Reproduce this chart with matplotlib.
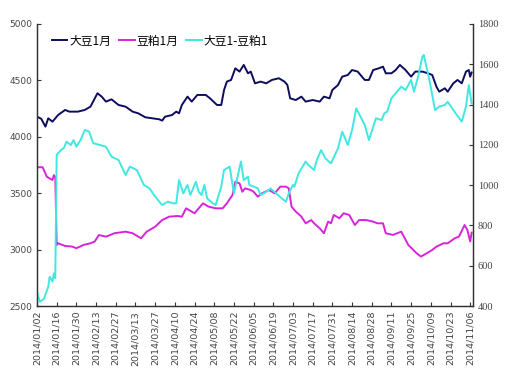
import pandas as pd
import matplotlib
matplotlib.use("Agg")
import matplotlib.pyplot as plt
import matplotlib.dates as mdates

plt.rcParams['font.family'] = ['Noto Sans CJK SC', 'DejaVu Sans']

# 大豆1月 (left axis)
soy_dates = ["01-02", "01-05", "01-08", "01-10", "01-13", "01-17", "01-22", "01-25", "01-31", "02-05",
             "02-09", "02-14", "02-17", "02-20", "02-24", "03-01", "03-06", "03-11", "03-15", "03-20",
             "03-25", "03-30", "04-01", "04-03", "04-08", "04-11", "04-13", "04-15", "04-19", "04-22",
             "04-26", "05-02", "05-05", "05-10", "05-13", "05-15", "05-17", "05-20", "05-23", "05-26",
             "05-29", "06-01", "06-03", "06-06", "06-10", "06-14", "06-18", "06-23", "06-27", "06-29",
             "07-01", "07-05", "07-09", "07-12", "07-17", "07-22", "07-25", "07-29", "07-31", "08-04",
             "08-07", "08-11", "08-14", "08-18", "08-23", "08-26", "08-29", "09-02", "09-05", "09-07",
             "09-11", "09-14", "09-17", "09-21", "09-25", "09-28", "10-03", "10-07", "10-10", "10-13",
             "10-15", "10-19", "10-21", "10-25", "10-28", "10-31", "11-03", "11-05", "11-06", "11-07"]
soy_vals = [4178, 4160, 4090, 4164, 4134, 4193, 4238, 4223, 4223, 4238,
            4267, 4386, 4356, 4312, 4332, 4282, 4267, 4223, 4208, 4173,
            4164, 4155, 4143, 4178, 4193, 4223, 4208, 4282, 4356, 4312,
            4371, 4371, 4341, 4282, 4282, 4415, 4489, 4504, 4607, 4578,
            4637, 4563, 4578, 4474, 4489, 4474, 4504, 4519, 4489, 4460,
            4341, 4326, 4356, 4312, 4326, 4312, 4356, 4341, 4415, 4459,
            4533, 4548, 4592, 4578, 4504, 4504, 4592, 4607, 4622, 4563,
            4563, 4592, 4637, 4592, 4533, 4578, 4578, 4563, 4548, 4444,
            4400, 4430, 4400, 4474, 4504, 4474, 4578, 4592, 4533, 4570]

# 豆粕1月 (left axis)
meal_dates = ["01-02", "01-06", "01-09", "01-13", "01-14", "01-15", "01-16", "01-17", "01-22", "01-27",
              "01-30", "02-04", "02-09", "02-12", "02-15", "02-20", "02-23", "02-26", "03-06", "03-11",
              "03-17", "03-21", "03-27", "04-01", "04-06", "04-12", "04-15", "04-18", "04-24", "04-30",
              "05-04", "05-09", "05-14", "05-17", "05-21", "05-23", "05-26", "05-28", "05-30", "06-03",
              "06-05", "06-08", "06-11", "06-16", "06-20", "06-24", "06-28", "06-30", "07-02", "07-05",
              "07-09", "07-12", "07-16", "07-18", "07-22", "07-25", "07-28", "07-30", "08-01", "08-05",
              "08-08", "08-12", "08-16", "08-19", "08-24", "08-29", "09-01", "09-05", "09-07", "09-12",
              "09-18", "09-23", "09-29", "10-02", "10-06", "10-10", "10-13", "10-18", "10-21", "10-26",
              "10-29", "11-02", "11-04", "11-06", "11-07"]
meal_vals = [3730, 3730, 3646, 3617, 3660, 3640, 3041, 3056, 3032, 3027,
             3012, 3041, 3056, 3071, 3129, 3115, 3129, 3145, 3159, 3145,
             3100, 3159, 3203, 3262, 3292, 3298, 3292, 3366, 3322, 3410,
             3381, 3366, 3366, 3410, 3484, 3602, 3587, 3513, 3543, 3528,
             3513, 3469, 3499, 3528, 3499, 3558, 3558, 3543, 3381, 3337,
             3292, 3233, 3262, 3233, 3189, 3145, 3248, 3233, 3307, 3278,
             3322, 3307, 3218, 3262, 3262, 3248, 3233, 3233, 3145, 3130,
             3159, 3041, 2967, 2938, 2967, 2997, 3026, 3056, 3056, 3100,
             3115, 3218, 3174, 3071, 3150]

# 大豆1-豆粕1 (right axis)
spread_dates = ["01-02", "01-04", "01-07", "01-10", "01-11", "01-13", "01-14", "01-15", "01-16", "01-19",
                "01-21", "01-23", "01-26", "01-28", "01-30", "02-02", "02-05", "02-08", "02-11", "02-16",
                "02-20", "02-24", "03-01", "03-06", "03-09", "03-14", "03-19", "03-23", "03-27", "04-01",
                "04-05", "04-09", "04-11", "04-13", "04-16", "04-19", "04-21", "04-25", "04-27", "04-29",
                "05-01", "05-03", "05-07", "05-09", "05-13", "05-15", "05-19", "05-22", "05-27", "05-29",
                "06-01", "06-02", "06-08", "06-10", "06-14", "06-17", "06-21", "06-25", "06-28", "06-30",
                "07-03", "07-04", "07-07", "07-12", "07-14", "07-18", "07-20", "07-23", "07-26", "07-30",
                "08-04", "08-07", "08-11", "08-14", "08-17", "08-23", "08-26", "08-31", "09-04", "09-06",
                "09-08", "09-11", "09-14", "09-18", "09-21", "09-25", "09-27", "09-30", "10-03", "10-04",
                "10-08", "10-12", "10-15", "10-19", "10-21", "10-25", "10-31", "11-03", "11-05", "11-07"]
spread_vals = [471, 421, 436, 496, 545, 521, 562, 538, 1150, 1174,
               1183, 1216, 1199, 1224, 1191, 1224, 1274, 1266, 1208, 1199,
               1191, 1141, 1125, 1050, 1092, 1075, 1001, 984, 943, 901,
               918, 909, 910, 1025, 959, 1001, 951, 1017, 967, 951,
               1001, 934, 910, 901, 992, 1075, 1092, 959, 1117, 1025,
               1042, 1001, 984, 951, 967, 984, 959, 934, 918, 959,
               1001, 992, 1059, 1117, 1100, 1075, 1125, 1174, 1133, 1108,
               1183, 1265, 1199, 1274, 1381, 1299, 1224, 1332, 1323, 1357,
               1365, 1431, 1456, 1489, 1472, 1522, 1464, 1539, 1638, 1646,
               1522, 1373, 1390, 1398, 1414, 1373, 1315, 1390, 1497, 1406]


def to_dt(lst):
    return pd.to_datetime(["2014-" + s for s in lst])


fig = plt.figure(figsize=(5.06, 3.79), dpi=100)
ax = fig.add_axes([0.0731, 0.1926, 0.8617, 0.7441])
ax2 = ax.twinx()

l1, = ax.plot(to_dt(soy_dates), soy_vals, color='#0d0d5e', lw=1.4, label='大豆1月')
l2, = ax.plot(to_dt(meal_dates), meal_vals, color='#d824d8', lw=1.4, label='豆粕1月')
l3, = ax2.plot(to_dt(spread_dates), spread_vals, color='#40e8e0', lw=1.4, label='大豆1-豆粕1')

ax.set_ylim(2500, 5000)
ax.set_yticks(range(2500, 5001, 500))
ax2.set_ylim(400, 1800)
ax2.set_yticks(range(400, 1801, 200))

ticks = pd.date_range("2014-01-02", "2014-11-06", freq="14D")
ax.set_xlim(pd.Timestamp("2014-01-02"), pd.Timestamp("2014-11-08"))
ax.set_xticks(ticks)
ax.xaxis.set_major_formatter(mdates.DateFormatter('%Y/%m/%d'))

for a in (ax, ax2):
    a.spines['top'].set_visible(False)
    for s in a.spines.values():
        s.set_color('#333333')
        s.set_linewidth(0.9)
    a.tick_params(direction='in', length=3, width=0.8, colors='#333333', labelcolor='#444444')

for lab in ax.get_xticklabels():
    lab.set_rotation(90)
    lab.set_fontsize(6.8)
    lab.set_family(['DejaVu Sans'])
for lab in ax.get_yticklabels():
    lab.set_fontsize(6.5)
    lab.set_family(['DejaVu Sans'])
for lab in ax2.get_yticklabels():
    lab.set_fontsize(7.5)
    lab.set_family(['Liberation Serif'])

ax.legend(handles=[l1, l2, l3], loc='upper left', bbox_to_anchor=(0.01, 1.0), ncol=3,
          frameon=False, fontsize=8.5, handlelength=1.3, handletextpad=0.15, columnspacing=0.7)

fig.savefig('out.png', dpi=100)
